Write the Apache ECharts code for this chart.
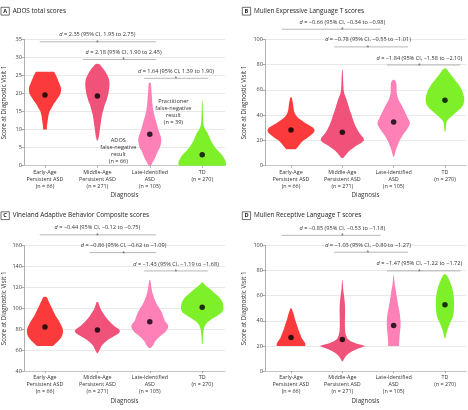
<!DOCTYPE html>
<html><head><meta charset="utf-8">
<script src="https://cdn.jsdelivr.net/npm/echarts@6/dist/echarts.min.js"></script>
<style>html,body{margin:0;padding:0;background:#fff}#c{width:468px;height:410px}</style>
</head><body><div id="c"></div>
<script>
// ---------- DATA ----------
const categories = ['Early-Age\nPersistent ASD\n(n = 66)', 'Middle-Age\nPersistent ASD\n(n = 271)', 'Late-Identified\nASD\n(n = 105)', 'TD\n(n = 270)'];
const panelTitles = ['ADOS total scores', 'Mullen Expressive Language T scores', 'Vineland Adaptive Behavior Composite scores', 'Mullen Receptive Language T scores'];
const panelLetters = ['A', 'B', 'C', 'D'];
const yTicksA = [0, 35, 5], yTicksB = [0, 100, 20], yTicksC = [40, 160, 20], yTicksD = [0, 100, 20];

// violin profiles: [score, density half-width]
const adosViolins = [
  [[26,9],[25,11],[24,12.5],[23,14],[22,15.5],[21,16],[20,15.5],[19,13.5],[18,11],[17,8.5],[16,6.5],[15,4.5],[14,3.5],[13,3],[12,2.5],[11,2],[10,1.8]],
  [[28.2,0.5],[28,2.5],[27.5,4],[27,5.5],[26,8],[25,10],[24,11.5],[23,12],[22,12],[21,11.5],[20,11],[19,10],[18,9],[17,7.5],[16,6.5],[15,5.5],[14,4.5],[13,4],[12,3.5],[11,3],[10,2.5],[9,2],[8,1.5],[7,0.5]],
  [[23,1],[22,1.3],[20,1.8],[18,2.3],[16,3],[14,4.5],[12,6.5],[10,8.5],[8,11],[7,11.5],[6,11],[5,10],[4,8],[3,6.5],[2,5],[1,3],[0,1]],
  [[18,0.3],[16,0.5],[14,0.7],[12,1],[11,1.5],[10,3],[9,5.5],[8,7],[7,8.5],[6,10.5],[5,13],[4,16],[3,19.5],[2,22],[1,23.5],[0,23.5]]
];
const expressiveViolins = [
  [[54,0.8],[52,1.3],[50,1.8],[48,2.2],[46,2.5],[44,2.8],[42,3.5],[40,5],[38,7],[36,10.5],[34,14],[32,18.5],[30,22.5],[28,24],[26,23],[24,20],[22,16.5],[20,12.5],[18,10],[16,8],[14,6],[13,5]],
  [[76,0.3],[72,0.6],[68,0.8],[64,1],[60,1.3],[57,2],[55,3],[52,4.5],[48,6],[44,7.5],[40,9.5],[36,11],[32,13],[28,15.5],[25,18],[22,21.5],[20,22],[18,19],[16,14.5],[14,11],[12,7.5],[10,5],[8,3],[6,1]],
  [[68,0.5],[67,2],[65,2.8],[62,3],[58,3],[55,3.8],[52,5],[48,8],[44,10.5],[40,13],[36,15.5],[34,16.5],[32,16],[30,14.5],[28,13],[25,10],[22,7.5],[19,5.5],[16,4],[13,2.5],[10,1.5],[7,0.5]],
  [[77,0.5],[76,2.5],[74,4],[72,6],[70,8],[68,10],[66,12],[64,14],[62,15.5],[60,17],[57,18.5],[54,19.5],[51,19.5],[48,18.5],[45,15.5],[42,11],[40,8],[38,5],[36,2.5],[34,1.3],[31,1],[27,0.5]]
];
const vinelandViolins = [
  [[111,1],[110,2.3],[108,3],[105,4.5],[102,6],[99,7.5],[96,9],[93,10.5],[90,12.5],[87,14.5],[84,16],[81,17.5],[78,18],[75,17.5],[72,16],[69,13.5],[66,10],[64,8]],
  [[106,0.8],[104,1.5],[101,2.5],[98,4],[95,6],[92,8],[89,10.5],[86,13.5],[83,17],[80,21.5],[78,22.5],[76,21],[73,16],[70,10.5],[67,7],[64,4],[61,2.5],[58,1],[57,0.3]],
  [[127,0.5],[124,1],[120,1.6],[116,2.3],[112,3.5],[108,5],[104,7],[100,9.5],[96,12],[92,13.5],[88,15],[85,17.5],[83,18.5],[80,17.5],[77,15],[74,11],[71,7.5],[68,5],[65,3.5],[62,1]],
  [[125,0.5],[123,2],[121,4.5],[119,7],[117,9.5],[114,13],[111,16.5],[108,19],[105,20.5],[102,21],[99,21],[96,19.5],[93,15],[90,10],[87,5.5],[84,3],[81,1.8],[78,1.2],[74,0.8],[70,0.6],[66,0.4]]
];
const receptiveViolins = [
  [[50,0.5],[48,1.5],[45,2.8],[42,3.8],[39,5],[36,6.3],[33,7.5],[30,9],[28,10],[26,11],[24,13],[22,14.5],[20,14.5]],
  [[72,0.3],[68,0.6],[64,1],[60,1.7],[56,2.3],[52,2.7],[48,2.8],[44,2.7],[40,2.6],[36,2.6],[32,2.8],[29,3.5],[26,5],[24,8],[22,14],[21,19],[20,23],[19,20],[18,16],[16,10],[14,6],[12,3.5],[10,1.8],[8,0.5]],
  [[76,0.3],[72,0.7],[68,1.3],[64,2.3],[60,3],[56,3.8],[52,4.7],[48,5.7],[44,6.5],[40,7],[36,7],[32,6.5],[28,6],[24,5.7],[20,5.5]],
  [[77,0.5],[76,2],[74,3.5],[72,4.5],[70,5.5],[67,7],[64,8],[60,8.8],[56,9.2],[52,9.2],[48,9],[45,8.5],[42,7.5],[40,6.2],[38,5],[36,4],[34,3],[32,2.2],[30,1.5],[28,1],[26,0.4]]
];
// group centres (black dots)
const adosCentres = [19.6, 19.3, 8.7, 3.0];
const expressiveCentres = [28.2, 26.4, 34.6, 51.7];
const vinelandCentres = [82.1, 79.3, 87.2, 101];
const receptiveCentres = [26.9, 25.3, 36.4, 52.8];
// effect-size comparisons: pairs of groups
const comparisons = [[0, 2], [1, 2], [2, 3]];
const adosEffects = ['2.35 (95% CI, 1.95 to 2.75)', '2.18 (95% CI, 1.90 to 2.45)', '1.64 (95% CI, 1.39 to 1.90)'];
const expressiveEffects = ['−0.66 (95% CI, −0.34 to −0.98)', '−0.78 (95% CI, −0.55 to −1.01)', '−1.84 (95% CI, −1.58 to −2.10)'];
const vinelandEffects = ['−0.44 (95% CI, −0.12 to −0.75)', '−0.86 (95% CI, −0.62 to −1.09)', '−1.43 (95% CI, −1.19 to −1.68)'];
const receptiveEffects = ['−0.85 (95% CI, −0.53 to −1.18)', '−1.03 (95% CI, −0.80 to −1.27)', '−1.47 (95% CI, −1.22 to −1.72)'];
const adosNotes = ['Practitioner\nfalse-negative\nresult\n(n = 39)', 'ADOS\nfalse-negative\nresult\n(n = 66)'];

// ---------- LAYOUT / STYLE ----------
const colors = ['#fb3b3b', '#f0527a', '#fd80b6', '#7ef02a'];
const FONT = '"Open Sans", "DejaVu Sans", sans-serif';
const DENS = 1 / 52; // density half-width -> category units
const panels = [
  {violins: adosViolins, centres: adosCentres, effects: adosEffects, yt: yTicksA,
   grid: {left: 24, top: 39.3, width: 201, height: 126.4}, xr: [-0.4, 3.435],
   brY: [34.3, 29.4, 24.2], brX: [[-0.1, 2.12], [0.72, 2.12], [1.89, 3.11]], box: [1, 7.3], notes: true},
  {violins: expressiveViolins, centres: expressiveCentres, effects: expressiveEffects, yt: yTicksB,
   grid: {left: 265, top: 39.3, width: 201, height: 126.4}, xr: [-0.507, 3.41],
   brY: [108, 94, 79.7], brX: [[-0.18, 1.75], [0.84, 2.28], [1.87, 3.3]], box: [242.3, 7.3]},
  {violins: vinelandViolins, centres: vinelandCentres, effects: vinelandEffects, yt: yTicksC,
   grid: {left: 24, top: 245.6, width: 201, height: 125.5}, xr: [-0.4, 3.435],
   brY: [170.3, 153.3, 135.8], brX: [[-0.1, 2.12], [0.85, 2.12], [1.89, 3.11]], box: [1, 211.8]},
  {violins: receptiveViolins, centres: receptiveCentres, effects: receptiveEffects, yt: yTicksD,
   grid: {left: 265, top: 245.3, width: 201, height: 126}, xr: [-0.507, 3.41],
   brY: [107.9, 94.5, 79.7], brX: [[-0.18, 1.75], [0.84, 2.28], [1.87, 3.3]], box: [242.3, 211.8]}
];

const grids = [], xAxes = [], yAxes = [], series = [], graphics = [];
panels.forEach((p, k) => {
  grids.push(p.grid);
  xAxes.push({
    gridIndex: k, type: 'value', min: p.xr[0], max: p.xr[1],
    name: 'Diagnosis', nameLocation: 'middle', nameGap: 27,
    nameTextStyle: {fontSize: 6.2, color: '#333', fontFamily: FONT},
    axisLine: {show: true, onZero: false, lineStyle: {color: '#bbb', width: 0.8}},
    axisTick: {show: true, customValues: [0, 1, 2, 3], length: 2, lineStyle: {color: '#999', width: 0.8}},
    axisLabel: {customValues: [0, 1, 2, 3], formatter: v => categories[Math.round(v)] || '',
      fontSize: 5.4, lineHeight: 7, color: '#333', margin: 3, fontFamily: FONT},
    splitLine: {show: false}
  });
  yAxes.push({
    gridIndex: k, type: 'value', min: p.yt[0], max: p.yt[1], interval: p.yt[2],
    name: 'Score at Diagnostic Visit 1', nameLocation: 'middle', nameGap: k % 2 ? 17.5 : 16.5,
    nameTextStyle: {fontSize: 6.2, color: '#333', fontFamily: FONT},
    axisLine: {show: true, onZero: false, lineStyle: {color: '#999', width: 0.8}},
    axisTick: {show: true, length: 2.5, lineStyle: {color: '#999', width: 0.8}},
    axisLabel: {fontSize: 5.6, color: '#444', margin: 2, fontFamily: FONT},
    splitLine: {show: true, lineStyle: {color: '#e2e2e2', width: 0.8}}
  });
  series.push({
    type: 'custom', xAxisIndex: k, yAxisIndex: k,
    data: p.centres.map((v, i) => [i, v]),
    renderItem: (params, api) => {
      const ci = params.dataIndex;
      const prof = p.violins[ci].slice().sort((a, b) => a[0] - b[0]);
      const pts = [];
      prof.forEach(q => pts.push(api.coord([ci + q[1] * DENS, q[0]])));
      prof.slice().reverse().forEach(q => pts.push(api.coord([ci - q[1] * DENS, q[0]])));
      return {type: 'polygon', shape: {points: pts}, style: {fill: colors[ci], stroke: null}};
    }
  });
  series.push({
    type: 'scatter', xAxisIndex: k, yAxisIndex: k, symbolSize: 5.5, z: 5,
    itemStyle: {color: '#000'}, data: p.centres.map((v, i) => [i, v])
  });
  series.push({
    type: 'custom', xAxisIndex: k, yAxisIndex: k, z: 6,
    data: comparisons.map((c, i) => [(c[0] + c[1]) / 2, p.brY[i]]),
    renderItem: (params, api) => {
      const i = params.dataIndex;
      const y = p.brY[i];
      const a = api.coord([p.brX[i][0], y]), b = api.coord([p.brX[i][1], y]);
      const m = api.coord([(comparisons[i][0] + comparisons[i][1]) / 2, y]);
      return {type: 'group', children: [
        {type: 'line', shape: {x1: a[0], y1: a[1], x2: b[0], y2: b[1]}, style: {stroke: '#9a9a9a', lineWidth: 0.7}},
        {type: 'text', x: m[0], y: m[1] + 0.5, style: {text: '*', fontSize: 5, fill: '#555', align: 'center', verticalAlign: 'middle', fontFamily: FONT}},
        {type: 'text', x: m[0], y: m[1] - 7, style: {text: '{i|d} = ' + p.effects[i], fontSize: 5.6, fill: '#333', align: 'center', verticalAlign: 'middle', fontFamily: FONT,
          rich: {i: {fontStyle: 'italic', fontSize: 5.6, fontFamily: FONT, fill: '#333'}}}}
      ]};
    }
  });
  if (p.notes) {
    series.push({
      type: 'custom', xAxisIndex: k, yAxisIndex: k, z: 6,
      data: [[2.45, 15.0], [1.4, 4.2]],
      renderItem: (params, api) => {
        const c = api.coord([api.value(0), api.value(1)]);
        return {type: 'text', x: c[0], y: c[1], style: {text: adosNotes[params.dataIndex], fontSize: 5.6, lineHeight: 7,
          fill: '#333', align: 'center', verticalAlign: 'middle', fontFamily: FONT}};
      }
    });
  }
  graphics.push({type: 'rect', shape: {x: p.box[0], y: p.box[1], width: 8.3, height: 7.8}, style: {fill: '#fff', stroke: '#333', lineWidth: 0.7}});
  graphics.push({type: 'text', x: p.box[0] + 4.15, y: p.box[1] + 4, style: {text: panelLetters[k], fontSize: 5.6, fontWeight: 'bold', fill: '#222', align: 'center', verticalAlign: 'middle', fontFamily: FONT}});
  graphics.push({type: 'text', x: p.box[0] + 11.7, y: p.box[1] + 3.6, style: {text: panelTitles[k], fontSize: 6.4, fill: '#222', align: 'left', verticalAlign: 'middle', fontFamily: FONT}});
});

const chart = echarts.init(document.getElementById('c'), null, {renderer: 'canvas'});
chart.setOption({
  animation: false,
  backgroundColor: '#fff',
  textStyle: {fontFamily: FONT},
  grid: grids, xAxis: xAxes, yAxis: yAxes, series: series, graphic: graphics
});
</script></body></html>
